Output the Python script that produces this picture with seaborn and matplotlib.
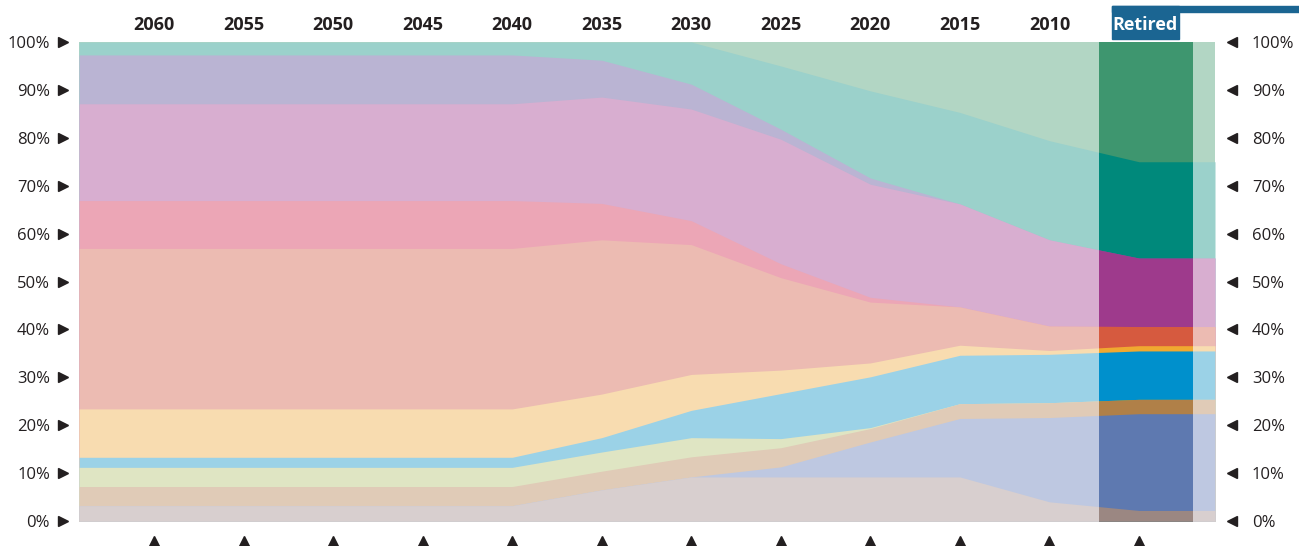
import numpy as np
import matplotlib
matplotlib.use("Agg")
import matplotlib.pyplot as plt
import seaborn as sns
from matplotlib.patches import Rectangle
from matplotlib.transforms import blended_transform_factory, offset_copy

# Target-date vintages, oldest glide-path stage on the right
vintages = ["2060", "2055", "2050", "2045", "2040", "2035",
            "2030", "2025", "2020", "2015", "2010", "Retired"]

# Allocation sleeves (percent of portfolio), listed bottom to top
sleeve_01 = [3.2, 3.2, 3.2, 3.2, 3.2, 6.5, 9.2, 9.2, 9.2, 9.2, 4.0, 2.2]
sleeve_02 = [0.0, 0.0, 0.0, 0.0, 0.0, 0.0, 0.0, 2.1, 7.3, 12.2, 17.6, 20.2]
sleeve_03 = [4.0, 4.0, 4.0, 4.0, 4.0, 3.9, 4.2, 4.0, 2.8, 3.1, 3.1, 3.0]
sleeve_04 = [4.0, 4.0, 4.0, 4.0, 4.0, 4.0, 4.0, 1.9, 0.2, 0.0, 0.0, 0.0]
sleeve_05 = [2.1, 2.1, 2.1, 2.1, 2.1, 3.0, 5.7, 9.4, 10.6, 10.1, 10.1, 10.1]
sleeve_06 = [10.1, 10.1, 10.1, 10.1, 10.1, 9.1, 7.5, 4.9, 2.9, 2.1, 0.8, 1.1]
sleeve_07 = [33.5, 33.5, 33.5, 33.5, 33.5, 32.2, 27.1, 19.3, 12.7, 8.0, 5.1, 4.0]
sleeve_08 = [10.0, 10.0, 10.0, 10.0, 10.0, 7.6, 5.0, 2.9, 1.0, 0.0, 0.0, 0.0]
sleeve_09 = [20.2, 20.2, 20.2, 20.2, 20.2, 22.2, 23.3, 26.0, 23.6, 21.5, 18.0, 14.3]
sleeve_10 = [10.2, 10.2, 10.2, 10.2, 10.2, 7.7, 5.2, 2.1, 1.3, 0.0, 0.0, 0.0]
sleeve_11 = [2.7, 2.7, 2.7, 2.7, 2.7, 3.8, 8.8, 13.2, 18.2, 19.1, 20.7, 20.1]
sleeve_12 = [0.0, 0.0, 0.0, 0.0, 0.0, 0.0, 0.0, 5.0, 10.2, 14.7, 20.6, 25.0]

sleeves = [sleeve_01, sleeve_02, sleeve_03, sleeve_04, sleeve_05, sleeve_06,
           sleeve_07, sleeve_08, sleeve_09, sleeve_10, sleeve_11, sleeve_12]

pct_ticks = list(range(0, 101, 10))

# Muted fills for the full path, saturated fills for the retirement column
soft_colors = sns.color_palette([
    "#d8cfcf", "#bec8e1", "#e0cbb7", "#dfe5c3", "#9bd2e7", "#f8dcb0",
    "#ecbbb2", "#eca6b6", "#d8aed0", "#bab4d3", "#9bd1cb", "#b2d6c4"])
bold_colors = sns.color_palette([
    "#9b8782", "#5e79b0", "#b08048", "#8db04a", "#0090cc", "#f0a830",
    "#d65a3f", "#d9436b", "#9e3a8c", "#6f5fa0", "#00897b", "#3e966f"])

INK = "#231f20"
HEADER_BLUE = "#1b6592"

sns.set_theme(style="white")
plt.rcParams["font.family"] = ["Open Sans", "DejaVu Sans"]

W, H = 1299, 546
fig = plt.figure(figsize=(W / 100, H / 100), dpi=100)
ax = fig.add_axes([79 / W, 25 / H, 1136 / W, 479 / H])

pos = np.arange(len(vintages))
edge_left, edge_right = 0.838, 0.849
xs = np.concatenate([[pos[0] - edge_left], pos, [pos[-1] + edge_right]])
tops = np.cumsum([np.pad(np.asarray(s, float), 1, mode="edge") for s in sleeves], axis=0)


def paint(colors, clip=None):
    # paint from the top band down so each band covers the one above
    for top, col in zip(tops[::-1], colors[::-1]):
        coll = ax.fill_between(xs, 0, top, color=col, linewidth=0)
        if clip is not None:
            coll.set_clip_path(clip)


paint(soft_colors)
retired = pos[-1]
band = Rectangle((retired - 0.447, 0), 1.039, 100, transform=ax.transData)
paint(bold_colors, clip=band)

ax.set_xlim(xs[0], xs[-1])
ax.set_ylim(0, 100)
ax.set_xticks([])
ax.set_yticks([])
for sp in ax.spines.values():
    sp.set_visible(False)

# percentage scale on both sides with pointer arrows
ylab = blended_transform_factory(ax.transAxes, ax.transData)
for v in pct_ticks:
    ax.annotate(f"{v}%", xy=(0, v), xycoords=ylab, xytext=(-29, 0),
                textcoords="offset pixels", ha="right", va="center_baseline",
                fontsize=12, color=INK)
    ax.annotate(f"{v}%", xy=(1, v), xycoords=ylab, xytext=(37, 0),
                textcoords="offset pixels", ha="left", va="center_baseline",
                fontsize=12, color=INK)
left_arrows = offset_copy(ylab, fig=fig, x=-16, y=0, units="dots")
right_arrows = offset_copy(ylab, fig=fig, x=17, y=0, units="dots")
ax.plot(np.zeros(len(pct_ticks)), pct_ticks, ">", ms=7.5, color=INK,
        transform=left_arrows, clip_on=False, linestyle="none")
ax.plot(np.ones(len(pct_ticks)), pct_ticks, "<", ms=7.5, color=INK,
        transform=right_arrows, clip_on=False, linestyle="none")

# vintage labels above, markers below
xlab = blended_transform_factory(ax.transData, ax.transAxes)
for i, name in enumerate(vintages[:-1]):
    ax.annotate(name, xy=(pos[i], 1), xycoords=xlab, xytext=(0, 17),
                textcoords="offset pixels", ha="center", va="center",
                fontsize=13, fontweight="bold", color=INK)
bottom_marks = offset_copy(xlab, fig=fig, x=0, y=-23, units="dots")
ax.plot(pos, np.zeros(len(pos)), "^", ms=11, color=INK,
        transform=bottom_marks, clip_on=False, linestyle="none")

# header tab for the retirement column
fig.patches.append(Rectangle((1112 / W, 1 - 12 / H), (W - 1112) / W, 6 / H,
                             transform=fig.transFigure, color=HEADER_BLUE, zorder=5))
fig.patches.append(Rectangle((1112 / W, 1 - 39 / H), 67 / W, 33 / H,
                             transform=fig.transFigure, color=HEADER_BLUE, zorder=5))
retired_x = ax.transData.transform((retired, 0))[0] + 6
fig.text(retired_x / W, 1 - 25 / H, vintages[-1], ha="center", va="center",
         fontsize=13, fontweight="bold", color="white", zorder=6)

fig.savefig("out.png", dpi=100)
